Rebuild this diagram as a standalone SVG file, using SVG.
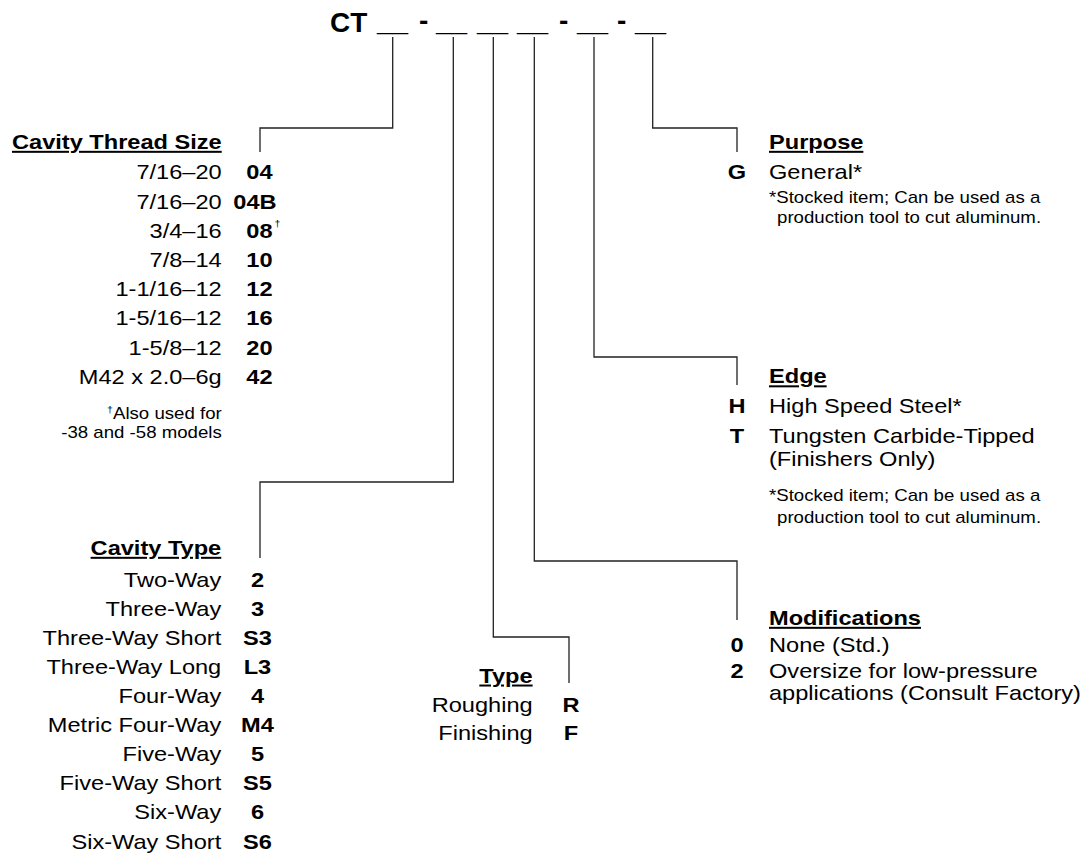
<svg xmlns="http://www.w3.org/2000/svg" width="1088" height="855" viewBox="0 0 1088 855">
<style>
text{font-family:"Liberation Sans",Arial,Helvetica,sans-serif;fill:#000}
.h{font-size:20px;font-weight:bold;text-decoration:underline}
.t{font-size:20px}
.b{font-size:20px;font-weight:bold}
.s{font-size:15.8px}
.e{text-anchor:end}
.m{text-anchor:middle}
.code{font-size:28px;font-weight:bold}
.conn{fill:none;stroke:#222;stroke-width:1.3}
</style>
<rect width="1088" height="855" fill="#fff"/>
<g id="model-code">
<text class="code" x="330" y="32">CT</text>
<text class="code" x="377" y="30.5">__</text>
<text class="code" x="419" y="30">-</text>
<text class="code" x="436" y="30.5">__</text>
<text class="code" x="477" y="30.5">__</text>
<text class="code" x="517" y="30.5">__</text>
<text class="code" x="559" y="30">-</text>
<text class="code" x="577" y="30.5">__</text>
<text class="code" x="617" y="30">-</text>
<text class="code" x="635" y="30.5">__</text>
</g>
<g id="connectors">
<path class="conn" d="M392.7,37V128H260V152"/>
<path class="conn" d="M453.3,37V482H260V558"/>
<path class="conn" d="M493.3,37V637H569V683"/>
<path class="conn" d="M534.3,37V561H737V620"/>
<path class="conn" d="M594,37V357H737V385"/>
<path class="conn" d="M652.7,37V128H737V152"/>
</g>
<g id="cavity-thread-size" transform="scale(1.18 1)">
<text class="h e" x="187.9" y="149">Cavity Thread Size</text>
<text class="t e" x="187.9" y="179.5">7/16–20</text>
<text class="t e" x="187.9" y="208.7">7/16–20</text>
<text class="t e" x="187.9" y="237.9">3/4–16</text>
<text class="t e" x="187.9" y="267.1">7/8–14</text>
<text class="t e" x="187.9" y="296.3">1-1/16–12</text>
<text class="t e" x="187.9" y="325.5">1-5/16–12</text>
<text class="t e" x="187.9" y="354.7">1-5/8–12</text>
<text class="t e" x="187.9" y="383.9">M42 x 2.0–6g</text>
<text class="b m" x="219.9" y="179.5">04</text>
<text class="b m" x="216.1" y="208.7">04B</text>
<text class="b m" x="219.9" y="237.9">08</text>
<text class="b m" x="219.9" y="267.1">10</text>
<text class="b m" x="219.9" y="296.3">12</text>
<text class="b m" x="219.9" y="325.5">16</text>
<text class="b m" x="219.9" y="354.7">20</text>
<text class="b m" x="219.9" y="383.9">42</text>
<text x="232.6" y="227" style="font-size:9px">†</text>
<text class="s e" x="187.9" y="419.3"><tspan style="font-size:9px" dy="-6">†</tspan><tspan dy="6">Also used for</tspan></text>
<text class="s e" x="187.9" y="438.3">-38 and -58 models</text>
</g>
<g id="cavity-type" transform="scale(1.18 1)">
<text class="h e" x="187.5" y="555">Cavity Type</text>
<text class="t e" x="187.5" y="586.7">Two-Way</text>
<text class="t e" x="187.5" y="615.8">Three-Way</text>
<text class="t e" x="187.5" y="644.9">Three-Way Short</text>
<text class="t e" x="187.5" y="674">Three-Way Long</text>
<text class="t e" x="187.5" y="703.1">Four-Way</text>
<text class="t e" x="187.5" y="732.2">Metric Four-Way</text>
<text class="t e" x="187.5" y="761.3">Five-Way</text>
<text class="t e" x="187.5" y="790.4">Five-Way Short</text>
<text class="t e" x="187.5" y="819.5">Six-Way</text>
<text class="t e" x="187.5" y="848.6">Six-Way Short</text>
<text class="b m" x="218.2" y="586.7">2</text>
<text class="b m" x="218.2" y="615.8">3</text>
<text class="b m" x="218.2" y="644.9">S3</text>
<text class="b m" x="218.2" y="674">L3</text>
<text class="b m" x="218.2" y="703.1">4</text>
<text class="b m" x="218.2" y="732.2">M4</text>
<text class="b m" x="218.2" y="761.3">5</text>
<text class="b m" x="218.2" y="790.4">S5</text>
<text class="b m" x="218.2" y="819.5">6</text>
<text class="b m" x="218.2" y="848.6">S6</text>
</g>
<g id="type" transform="scale(1.18 1)">
<text class="h e" x="451.4" y="682.7">Type</text>
<text class="t e" x="451.4" y="711.7">Roughing</text>
<text class="t e" x="451.4" y="740.5">Finishing</text>
<text class="b m" x="483.9" y="711.7">R</text>
<text class="b m" x="483.9" y="740.5">F</text>
</g>
<g id="modifications" transform="scale(1.18 1)">
<text class="h" x="651.7" y="625">Modifications</text>
<text class="b m" x="624.6" y="652">0</text>
<text class="t" x="651.7" y="652">None (Std.)</text>
<text class="b m" x="624.6" y="678.5">2</text>
<text class="t" x="651.7" y="678.5">Oversize for low-pressure</text>
<text class="t" x="651.7" y="700.5">applications (Consult Factory)</text>
</g>
<g id="edge" transform="scale(1.18 1)">
<text class="h" x="651.7" y="383.5">Edge</text>
<text class="b m" x="624.6" y="413.3">H</text>
<text class="t" x="651.7" y="413.3">High Speed Steel*</text>
<text class="b m" x="624.6" y="443.3">T</text>
<text class="t" x="651.7" y="443.3">Tungsten Carbide-Tipped</text>
<text class="t" x="651.7" y="465.7">(Finishers Only)</text>
<text class="s" x="651.7" y="500.7">*Stocked item; Can be used as a</text>
<text class="s" x="658.5" y="522.7">production tool to cut aluminum.</text>
</g>
<g id="purpose" transform="scale(1.18 1)">
<text class="h" x="651.7" y="149">Purpose</text>
<text class="b m" x="624.6" y="179.5">G</text>
<text class="t" x="651.7" y="179.5">General*</text>
<text class="s" x="651.7" y="203">*Stocked item; Can be used as a</text>
<text class="s" x="658.5" y="223">production tool to cut aluminum.</text>
</g>
</svg>
